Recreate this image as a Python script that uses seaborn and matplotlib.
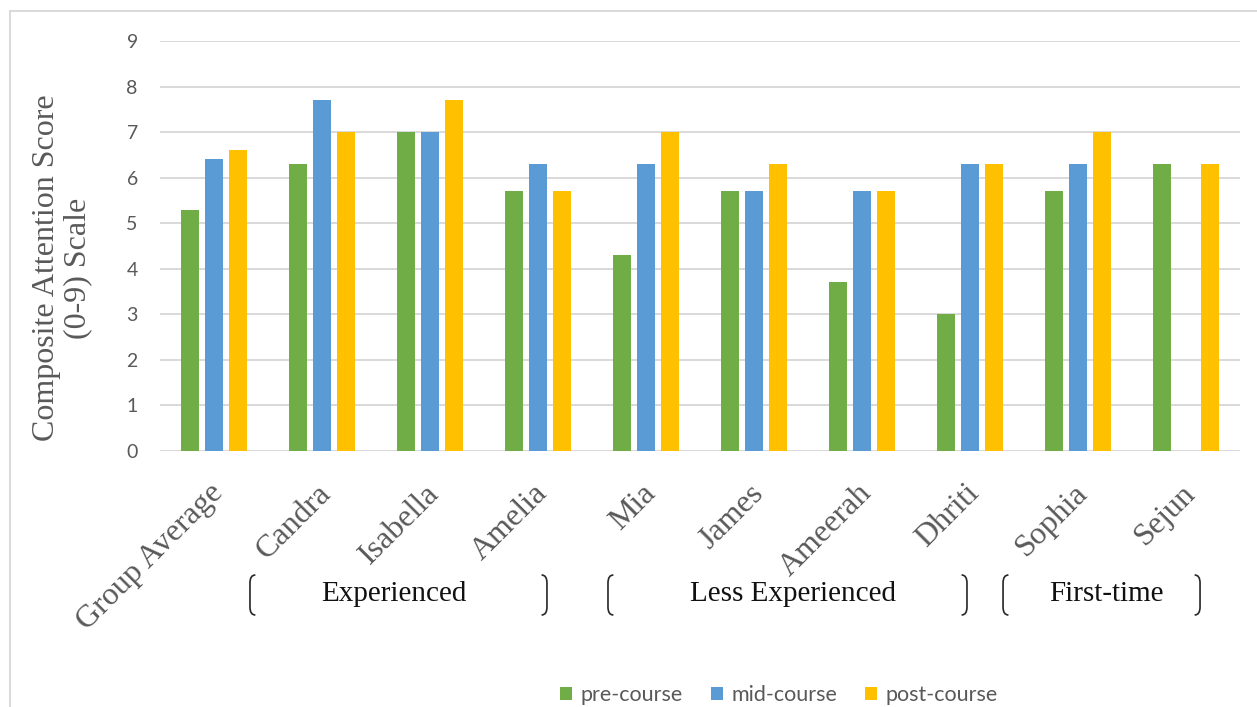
import numpy as np
import pandas as pd
import matplotlib
matplotlib.use("Agg")
import matplotlib.pyplot as plt
import matplotlib.transforms as mtransforms
from matplotlib.path import Path
from matplotlib.patches import PathPatch, Rectangle
import seaborn as sns

# ---- data -------------------------------------------------------------
participants = ["Group Average", "Candra", "Isabella", "Amelia", "Mia",
                "James", "Ameerah", "Dhriti", "Sophia", "Sejun"]
pre_course = [5.3, 6.3, 7.0, 5.7, 4.3, 5.7, 3.7, 3.0, 5.7, 6.3]
mid_course = [6.4, 7.7, 7.0, 6.3, 6.3, 5.7, 5.7, 6.3, 6.3, np.nan]
post_course = [6.6, 7.0, 7.7, 5.7, 7.0, 6.3, 5.7, 6.3, 7.0, 6.3]
phases = ["pre-course", "mid-course", "post-course"]
y_ticks = list(range(0, 10))
experience_groups = ["Experienced", "Less Experienced", "First-time"]

# ---- styling ----------------------------------------------------------
phase_colors = ["#70AD47", "#5B9BD5", "#FFC000"]
grid_color = "#D9D9D9"
label_gray = "#595959"
serif = ["Liberation Serif", "DejaVu Serif"]
sans = ["Lato", "DejaVu Sans"]

sns.set_theme(style="white")
plt.rcParams["font.family"] = sans

df = pd.DataFrame({
    "participant": participants * 3,
    "phase": np.repeat(phases, len(participants)),
    "score": pre_course + mid_course + post_course,
}).dropna()

W, H = 1257, 707
fig = plt.figure(figsize=(W / 100, H / 100), dpi=100, facecolor="white")
ax = fig.add_axes([160 / W, 1 - 451 / H, 1080 / W, 410 / H])

sns.barplot(data=df, x="participant", y="score", hue="phase",
            order=participants, hue_order=phases, palette=phase_colors,
            saturation=1, width=0.667, gap=0.25, errorbar=None,
            linewidth=0, ax=ax)

ax.set_xlim(-0.5, len(participants) - 0.5)
ax.set_ylim(0, 9)
ax.set_yticks(y_ticks)
ax.set_yticklabels([str(t) for t in y_ticks], fontsize=14, color=label_gray,
                   family=sans)
ax.yaxis.grid(True, color=grid_color, linewidth=1.4)
ax.xaxis.grid(False)
ax.set_axisbelow(True)
for s in ax.spines.values():
    s.set_visible(False)
ax.tick_params(axis="both", length=0)
ax.tick_params(axis="y", pad=16)
ax.tick_params(axis="x", pad=20)
ax.set_xlabel("")

ax.set_xticks(range(len(participants)))
ax.set_xticklabels(participants, rotation=45, ha="right", va="top",
                   rotation_mode="anchor", fontsize=23, color=label_gray,
                   family=serif)
shift = mtransforms.ScaledTranslation(-5 / 100, 0, fig.dpi_scale_trans)
for lab in ax.get_xticklabels():
    lab.set_transform(lab.get_transform() + shift)

ax.set_ylabel("Composite Attention Score\n(0-9) Scale", fontsize=23,
              color=label_gray, family=serif, linespacing=1.08,
              va="center", ha="center")
ax.yaxis.set_label_coords((62 - 160) / 1080, (451 - 268) / 410)

# ---- experience group brackets --------------------------------------
trans = mtransforms.blended_transform_factory(ax.transData, fig.transFigure)
bracket_spans = [(0.333, 3.083), (3.648, 6.972), (7.306, 9.13)]
label_x = [1.667, 5.361, 8.26]
top, bottom = 1 - 575 / H, 1 - 615 / H
cw, ch = 0.05, 8 / H


def bracket(x, direction):
    d = direction * cw
    verts = [(x + d, top), (x, top), (x, top - ch),
             (x, bottom + ch), (x, bottom), (x + d, bottom)]
    codes = [Path.MOVETO, Path.CURVE3, Path.CURVE3,
             Path.LINETO, Path.CURVE3, Path.CURVE3]
    return PathPatch(Path(verts, codes), transform=trans, fill=False,
                     edgecolor="#262626", linewidth=1.2, clip_on=False)


for (x0, x1), lx, name in zip(bracket_spans, label_x, experience_groups):
    ax.add_patch(bracket(x0, 1))
    ax.add_patch(bracket(x1, -1))
    ax.text(lx, 1 - 594 / H, name, transform=trans, ha="center", va="center",
            fontsize=21, color="#111111", family=serif, clip_on=False)

# ---- legend ------------------------------------------------------------
handles, labels = ax.get_legend_handles_labels()
if ax.get_legend() is not None:
    ax.get_legend().remove()
fig.legend(handles, labels, loc="center", bbox_to_anchor=(779 / W, 1 - 695 / H),
           ncol=3, frameon=False, handlelength=0.55, handleheight=0.55,
           handletextpad=0.4, columnspacing=1.3,
           prop={"family": sans, "size": 15.5}, labelcolor=label_gray)

# chart-area frame
fig.patches.append(Rectangle((10 / W, -0.05), 1.2, 1.05 - 11 / H,
                             transform=fig.transFigure, fill=False,
                             edgecolor=grid_color, linewidth=1.4))

fig.savefig("out.png", dpi=100, facecolor="white")
